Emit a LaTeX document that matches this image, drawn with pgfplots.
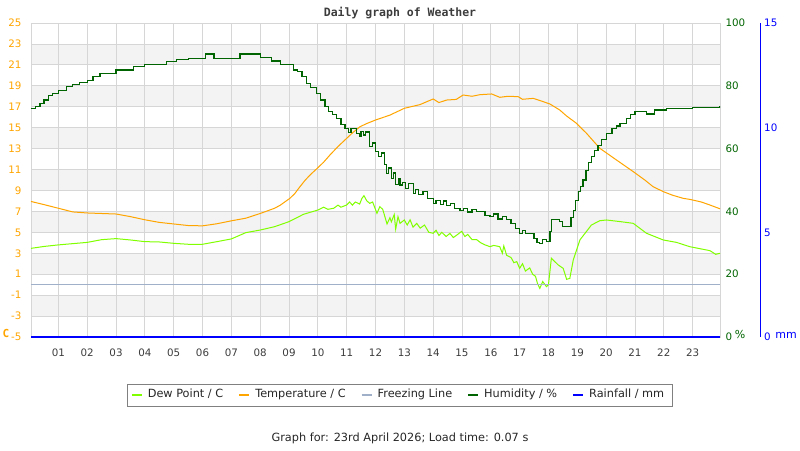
\documentclass[border=0pt]{standalone}
\usepackage{fontspec}
\setmainfont{DejaVu Sans}
\newfontfamily\monofont{DejaVu Sans Mono}
\usepackage{pgfplots}
\pgfplotsset{compat=1.18}
\definecolor{tempc}{RGB}{255,165,0}
\definecolor{dewc}{RGB}{128,255,0}
\definecolor{humc}{RGB}{0,100,0}
\definecolor{rainc}{RGB}{0,0,255}
\definecolor{frzc}{RGB}{160,176,200}
\definecolor{bandc}{RGB}{243,243,243}
\definecolor{gridc}{RGB}{214,214,214}
\definecolor{txtc}{RGB}{60,60,60}
\begin{document}
\begin{tikzpicture}
\useasboundingbox (0,0) rectangle (800pt,450pt);
\pgfplotsset{
  base/.style={scale only axis, width=689pt, height=314pt, at={(31pt,113pt)}, anchor=south west,
    xmin=0.05, xmax=23.95, /pgf/number format/assume math mode=true,
    major tick length=0pt, ticklabel style={font=\fontsize{10.3}{12}\selectfont}},
}
% bands
\begin{axis}[base, ymin=-5, ymax=25, hide axis]
\fill[bandc] (axis cs:0.05,21) rectangle (axis cs:23.95,23);
\fill[bandc] (axis cs:0.05,17) rectangle (axis cs:23.95,19);
\fill[bandc] (axis cs:0.05,13) rectangle (axis cs:23.95,15);
\fill[bandc] (axis cs:0.05,9) rectangle (axis cs:23.95,11);
\fill[bandc] (axis cs:0.05,5) rectangle (axis cs:23.95,7);
\fill[bandc] (axis cs:0.05,1) rectangle (axis cs:23.95,3);
\fill[bandc] (axis cs:0.05,-3) rectangle (axis cs:23.95,-1);
\end{axis}
% main temperature axis
\begin{axis}[base, ymin=-5, ymax=25,
  axis line style={gridc},
  xtick={1,...,23},
  xticklabels={01,02,03,04,05,06,07,08,09,10,11,12,13,14,15,16,17,18,19,20,21,22,23},
  xticklabel style={text=txtc, yshift=-8pt},
  ytick={-5,-3,...,25},
  yticklabels={-5,-3,-1,1,3,5,7,9,11,13,15,17,19,21,23,25},
  yticklabel style={text=tempc, xshift=-6pt},
  grid=major, major grid style={gridc, line width=0.8pt},
  legend columns=5,
  legend image code/.code={\draw[#1, line width=2pt] (0pt,0pt) -- (10pt,0pt);},
  legend style={at={(axis description cs:0.5356,-0.1847)}, anchor=center,
    draw={rgb,255:red,128;green,128;blue,128}, line width=0.8pt,
    font=\fontsize{11.3}{13}\selectfont, text=black!85,
    inner xsep=3pt, inner ysep=3.5pt,
    nodes={inner xsep=5pt, inner ysep=2pt, text height=8.5pt, text depth=2.5pt},
    /tikz/every even column/.append style={column sep=10pt}},
]
\addplot[dewc, line width=1pt] coordinates {
(0.05,3.47)(0.5,3.65)(1.0,3.8)(1.5,3.92)(2.0,4.04)(2.5,4.3)(3.0,4.4)(3.5,4.27)(4.0,4.11)(4.5,4.08)
(5.0,3.95)(5.5,3.86)(6.0,3.86)(6.5,4.11)(7.0,4.37)(7.5,4.97)(8.0,5.22)(8.5,5.54)(9.0,6.02)(9.5,6.72)
(10.0,7.13)(10.2,7.4)(10.35,7.2)(10.55,7.3)(10.7,7.6)(10.8,7.4)(11.0,7.61)(11.1,7.9)(11.2,7.6)(11.3,7.9)
(11.45,7.7)(11.53,8.25)(11.6,8.5)(11.7,8.0)(11.8,7.77)(11.9,7.9)(12.05,6.82)(12.15,7.45)(12.25,7.2)(12.4,5.8)
(12.5,6.4)(12.55,6.0)(12.65,6.7)(12.7,5.3)(12.78,6.5)(12.85,5.86)(13.0,6.18)(13.1,5.7)(13.2,6.2)(13.3,5.5)
(13.43,5.86)(13.55,5.4)(13.7,5.7)(13.85,5.0)(14.0,4.91)(14.1,5.2)(14.2,4.7)(14.3,5.0)(14.45,4.6)(14.58,4.9)
(14.7,4.5)(14.85,4.8)(14.99,5.1)(15.1,4.6)(15.2,4.8)(15.35,4.3)(15.51,4.3)(15.65,4.0)(15.8,3.8)(15.97,3.63)
(16.1,3.75)(16.31,3.63)(16.4,3.0)(16.45,3.7)(16.55,2.8)(16.7,2.6)(16.8,2.1)(16.9,2.2)(17.0,1.56)(17.1,2.0)
(17.2,1.3)(17.35,1.6)(17.45,1.0)(17.55,0.8)(17.62,0.1)(17.7,-0.35)(17.8,0.3)(17.93,-0.19)(18.0,0.0)(18.1,2.52)
(18.34,1.88)(18.51,1.56)(18.63,0.51)(18.74,0.6)(18.86,2.36)(19.09,4.27)(19.49,5.7)(19.78,6.11)(20.01,6.18)
(20.5,6.02)(20.94,5.86)(21.4,4.91)(21.98,4.27)(22.44,4.04)(22.9,3.63)(23.6,3.25)(23.8,2.9)(23.95,3.0)
};
\addlegendentry{Dew Point / C}
\addplot[tempc, line width=1pt] coordinates {
(0.05,7.95)(0.5,7.65)(1.0,7.3)(1.5,6.95)(2.0,6.85)(2.5,6.8)(3.0,6.75)(3.5,6.5)(4.0,6.2)(4.5,5.95)
(5.0,5.8)(5.5,5.65)(6.0,5.62)(6.5,5.82)(7.0,6.1)(7.5,6.35)(8.0,6.8)(8.5,7.3)(8.7,7.6)(9.03,8.25)
(9.2,8.7)(9.38,9.36)(9.55,9.95)(9.73,10.48)(9.98,11.12)(10.2,11.7)(10.42,12.39)(10.7,13.2)(11.0,13.98)(11.2,14.5)
(11.46,15.09)(11.7,15.4)(12.0,15.73)(12.5,16.2)(13.0,16.85)(13.54,17.2)(14.0,17.74)(14.2,17.4)(14.47,17.64)(14.8,17.7)
(15.04,18.12)(15.35,18.0)(15.62,18.15)(16.03,18.22)(16.31,17.9)(16.6,18.0)(16.95,17.96)(17.1,17.71)(17.47,17.8)(17.75,17.55)
(18.05,17.26)(18.39,16.69)(18.63,16.11)(18.97,15.42)(19.32,14.46)(19.78,13.03)(20.36,11.91)(20.94,10.8)(21.34,10.0)(21.63,9.36)
(21.98,8.89)(22.3,8.55)(22.67,8.25)(22.9,8.15)(23.3,7.9)(23.6,7.61)(23.95,7.25)
};
\addlegendentry{Temperature / C}
\addplot[frzc, line width=1pt] coordinates {(0.05,0) (23.95,0)};
\addlegendentry{Freezing Line}
\addlegendimage{humc}
\addlegendentry{Humidity / \%}
\addlegendimage{rainc}
\addlegendentry{Rainfall / mm}
\end{axis}
% humidity axis
\begin{axis}[base, ymin=0, ymax=100, hide x axis, axis y line*=right,
  y axis line style={draw=none},
  ytick={0,20,...,100},
  yticklabel style={text=humc, xshift=2pt}]
\addplot[humc, line width=1.2pt, const plot] coordinates {
(0.05,72.8)(0.2,73.5)(0.36,74.4)(0.5,75.5)(0.65,76.9)(0.8,77.5)(1.0,78.4)(1.29,79.7)(1.5,80.3)(1.74,81.0)(2.0,81.8)(2.2,83.0)(2.44,84.0)(3.0,85.0)
(3.6,86.1)(4.0,86.8)(4.76,87.7)(5.1,88.4)(5.5,88.8)(6.0,88.8)(6.1,90.1)(6.35,90.1)(6.4,88.8)(7.2,88.8)
(7.3,90.1)(7.9,90.1)(8.0,89.0)(8.3,89.0)(8.4,87.9)(8.6,87.9)(8.7,86.9)(9.0,86.9)(9.15,85.0)(9.3,84.5)(9.45,83.0)
(9.6,80.8)(9.75,79.5)(9.96,77.6)(10.1,75.5)(10.25,73.5)(10.36,71.8)(10.5,70.8)(10.65,69.6)(10.8,67.8)(10.94,66.5)(11.05,65.2)(11.15,66.3)(11.35,64.9)(11.45,64.0)(11.5,65.5)
(11.58,64.3)(11.65,65.3)(11.8,60.6)(11.9,61.8)(12.0,59.0)(12.1,57.4)(12.2,58.6)(12.3,55.0)(12.39,52.1)(12.45,53.8)(12.55,50.5)
(12.62,52.2)(12.7,48.5)(12.79,50.5)(12.85,48.4)(12.95,49.3)(13.05,47.2)(13.15,48.8)(13.31,45.8)(13.4,47.0)(13.5,45.5)
(13.65,46.3)(13.8,44.0)(14.0,42.6)(14.1,43.5)(14.25,42.2)(14.35,43.3)(14.47,42.0)(14.6,42.5)(14.75,41.0)(14.93,40.2)
(15.05,41.0)(15.2,39.8)(15.35,40.5)(15.51,39.9)(15.65,39.9)(15.8,38.8)(15.97,38.3)(16.1,39.2)(16.25,37.6)(16.4,38.3)
(16.55,37.3)(16.7,36.2)(16.85,34.5)(17.0,33.0)(17.1,34.0)(17.2,33.0)(17.35,33.0)(17.5,31.4)(17.6,30.0)(17.7,29.8)
(17.8,31.0)(17.93,30.4)(18.05,33.5)(18.11,37.5)(18.39,36.7)(18.5,35.1)(18.68,35.1)(18.78,38.0)(18.86,40.4)(18.95,43.5)(19.03,46.3)(19.12,48.0)(19.2,50.0)
(19.3,53.0)(19.4,55.5)(19.49,57.4)(19.6,59.5)(19.72,61.1)(19.85,63.0)(20.01,64.9)(20.2,66.3)(20.35,67.2)(20.48,68.1)(20.7,69.5)(20.85,70.8)(21.0,71.8)(21.4,71.0)(21.69,72.3)(22.09,72.8)(23.0,73.1)(23.95,73.7)
};
\end{axis}
% rainfall axis
\begin{axis}[scale only axis, width=729.7pt, height=314pt, at={(31pt,113pt)}, anchor=south west,
  xmin=0.05, xmax=25.36, ymin=0, ymax=15, clip=false,
  /pgf/number format/assume math mode=true,
  major tick length=0pt, ticklabel style={font=\fontsize{10.3}{12}\selectfont},
  hide x axis, axis y line*=right,
  y axis line style={rainc, line width=1.5pt, -},
  ytick={0,5,10,15},
  yticklabel style={text=rainc, xshift=0pt}]
\addplot[rainc, line width=1.6pt] coordinates {(0.05,0) (23.95,0)};
\end{axis}
\node[font=\monofont\bfseries\fontsize{11.5}{13}\selectfont, text=txtc] at (400pt,437pt) {Daily graph of Weather};
\node[font=\fontsize{11.3}{13}\selectfont, text=black!85] at (400pt,12pt) {Graph for: 23rd April 2026; Load time: 0.07 s};
\node[font=\monofont\bfseries\fontsize{11}{13}\selectfont, text=tempc] at (6pt,117pt) {C};
\node[font=\fontsize{11}{13}\selectfont, text=humc] at (740pt,116pt) {\%};
\node[font=\fontsize{11}{13}\selectfont, text=rainc] at (786pt,115pt) {mm};
\end{tikzpicture}
\end{document}
